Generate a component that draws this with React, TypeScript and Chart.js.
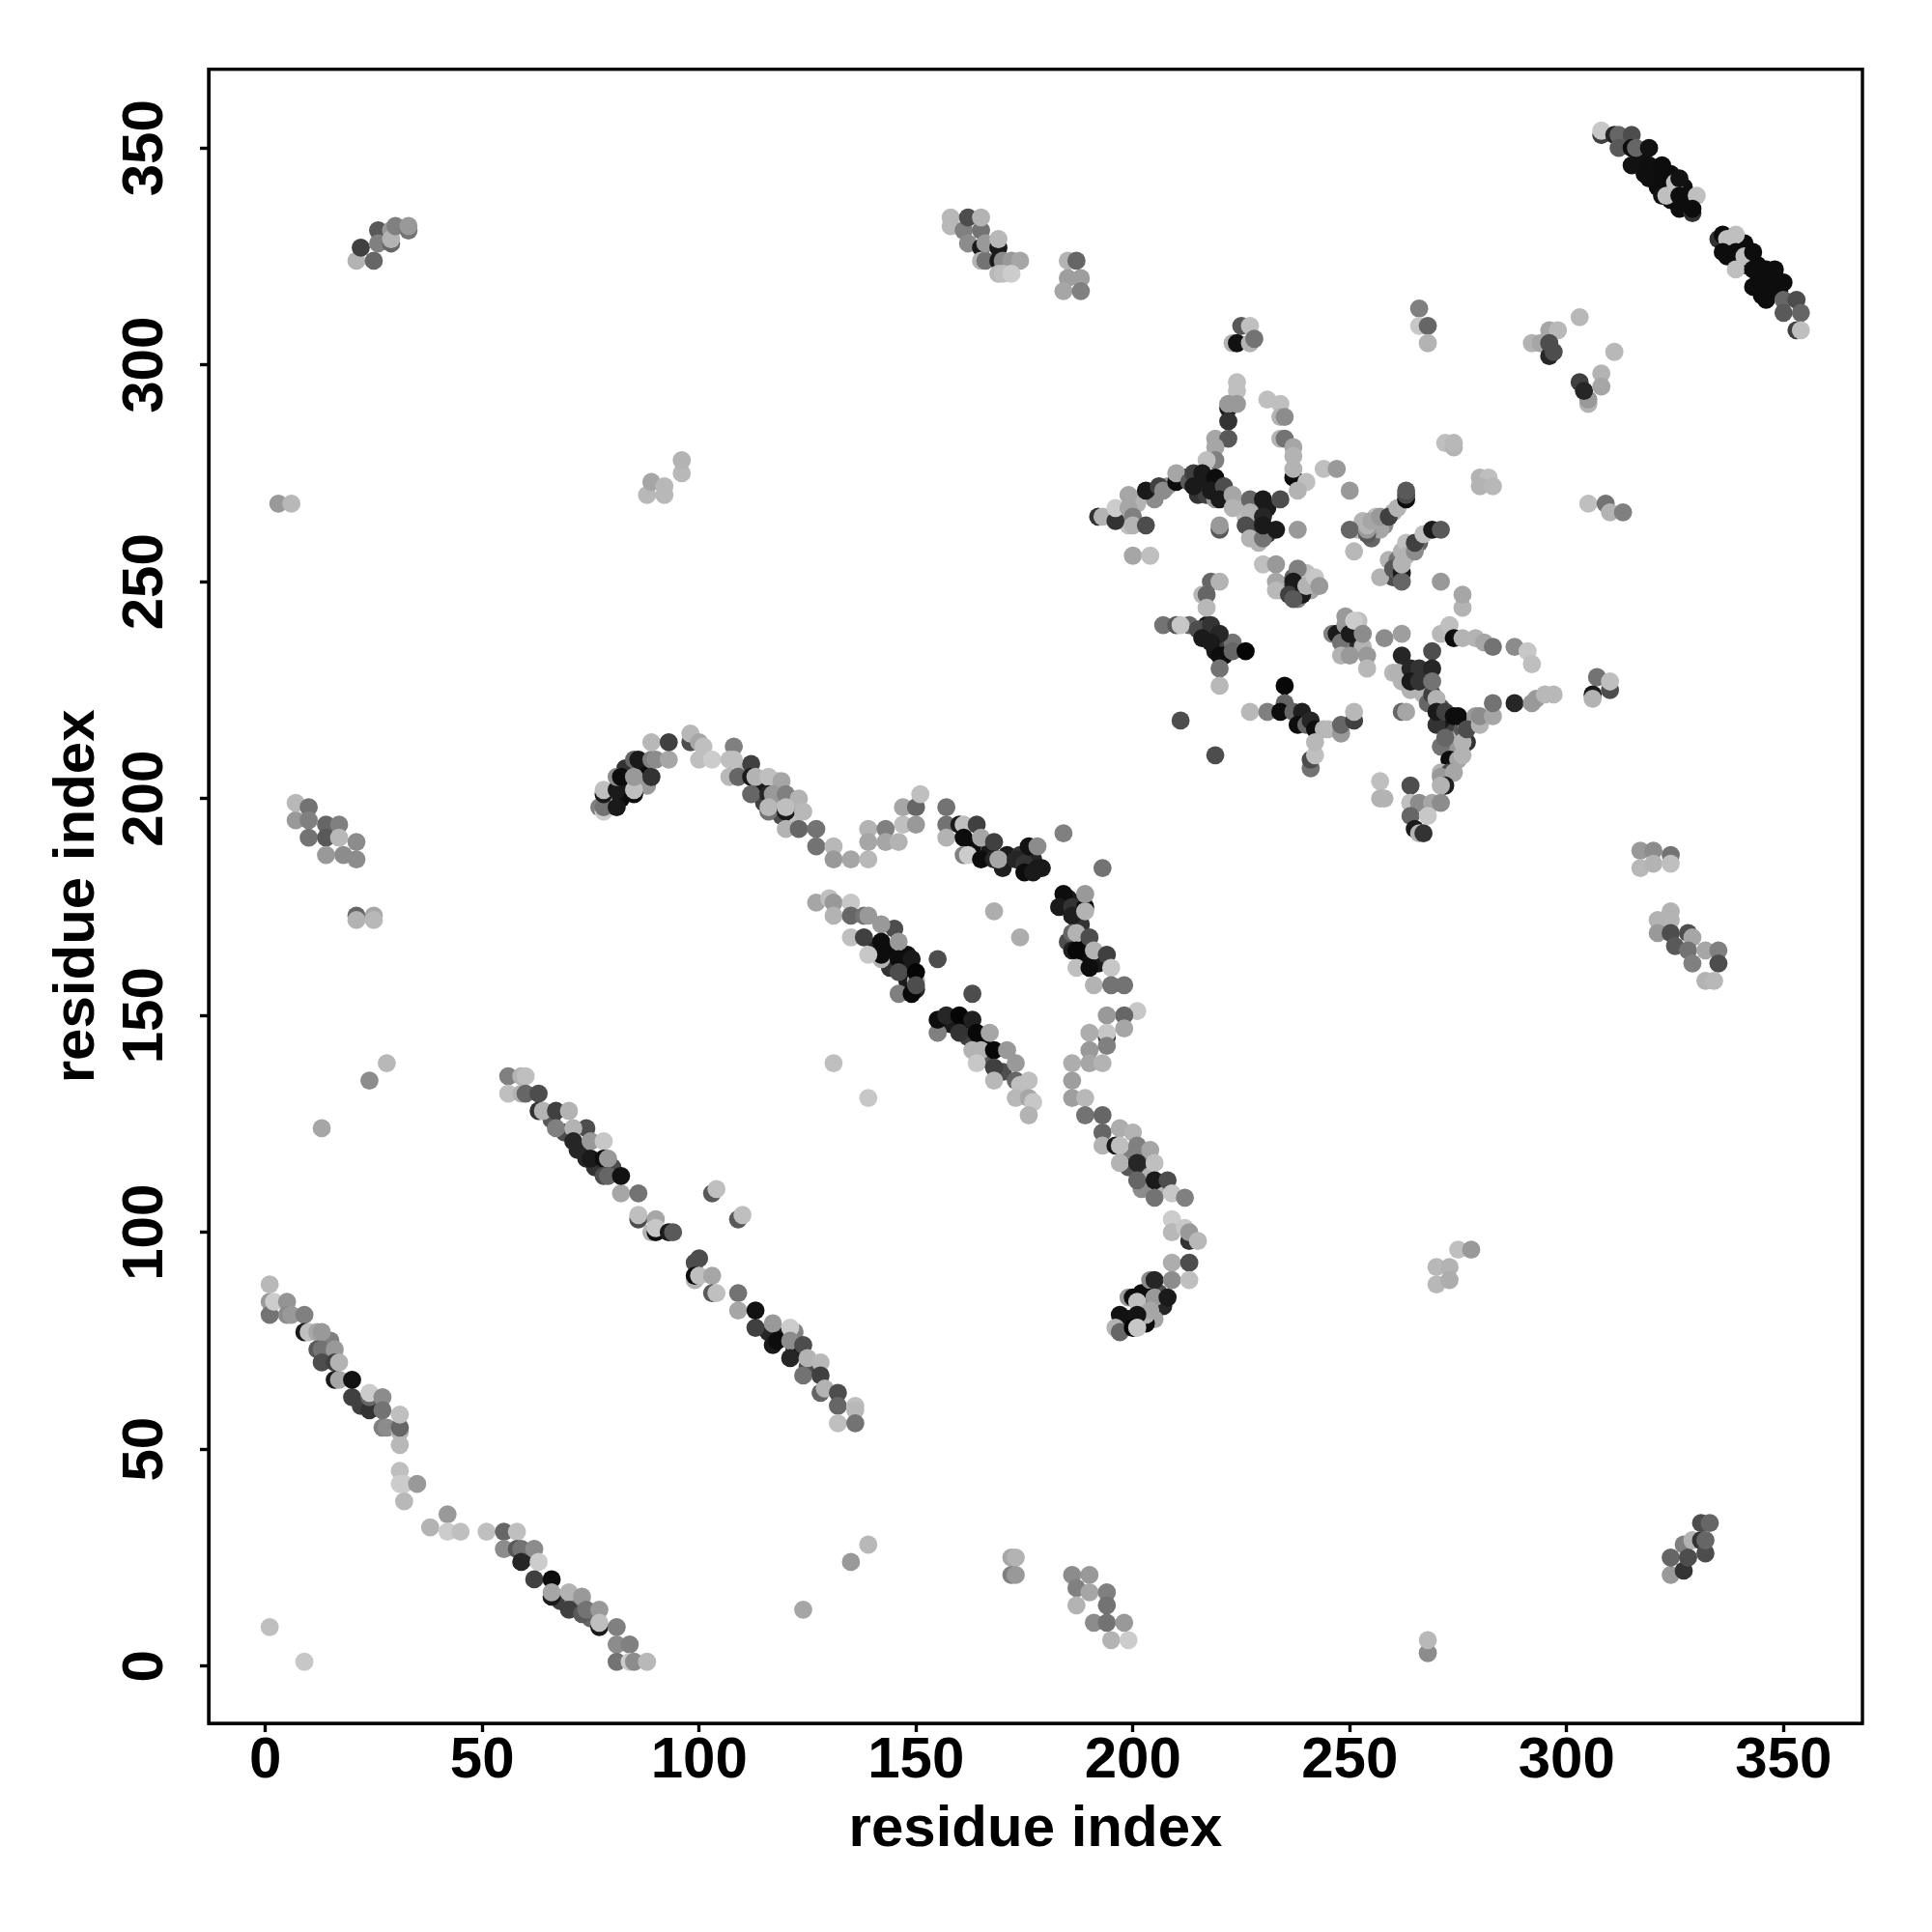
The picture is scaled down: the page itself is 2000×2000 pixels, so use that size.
import React, { useEffect, useRef } from "react";
import { Chart, registerables } from "chart.js";

Chart.register(...registerables);

type Contact = [number, number, number];

const axisTitle = "residue index";
const tickStep = 50;

const underStrands: Contact[] = [[317,348,.07],[320,345,.06],[323,342,.05],[324,344,.06],[328,338,.05],[327,341,.06],[318,344,.06],[321,341,.05],[324,338,.06],[338,328,.05],[341,328,.05],[341,323,.05],[345,320,.05],[344,323,.05],[347,320,.05],[349,317,.05],[345,316,.05],[337,325,.05],[348,322,.05],[14,71,.4],[15,75,.5],[22,60,.25],[26,60,.3],[68,15,.25],[71,15,.45],[75,11,.4],[60,25,.2],[72,119,.15],[76,115,.2],[69,123,.3],[80,115,.3],[122,73,.1],[119,76,.1],[116,77,.15],[125,69,.3],[66,126,.35],[122,77,.5]];

const underCurves: Contact[] = [[82,200,.05],[84,203,.1],[87,207,.05],[83,207,.2],[88,203,.6],[110,206,.7],[114,203,.1],[115,199,.25],[118,199,.7],[121,195,.75],[119,196,.3],[118,204,.7],[122,199,.6],[163,189,.05],[167,188,.1],[171,187,.1],[174,187,.2],[170,184,.12],[176,184,.05],[177,186,.15],[179,184,.1],[144,165,.05],[141,166,.15],[147,161,.1],[148,164,.05],[144,161,.2],[145,170,.3],[148,158,.1],[158,148,.1],[161,148,.05],[162,145,.25],[165,144,.05],[166,140,.35],[170,137,.3],[185,177,.1],[187,176,.1],[188,171,.2],[188,166,.05],[189,163,.05],[192,162,.1],[185,167,.3],[199,118,.5],[199,115,.35],[203,117,.5],[203,114,.25],[202,110,.55],[206,110,.7],[204,113,.7],[206,86,.3],[202,86,.05],[207,83,.15],[205,80,.65],[199,80,.1],[203,79,.05]];

const underCross: Contact[] = [[215,270,.2],[205,269,.55],[208,272,.6],[212,274,.3],[216,272,.15],[218,273,.1],[217,270,.25],[219,269,.6],[222,270,.5],[225,268,.7],[228,266,.3],[231,267,.1],[226,265,.75],[228,261,.7],[228,263,.25],[231,261,.2],[197,265,.75],[198,264,.7],[199,263,.75],[201,268,.7],[252,262,.7],[253,264,.7],[256,262,.6],[255,260,.4],[256,265,.75],[258,263,.55],[257,262,.65],[260,266,.7],[259,255,.7],[261,255,.45],[262,257,.7],[264,258,.6],[263,259,.75],[266,259,.4],[261,252,.75],[260,251,.3],[234,248,.7],[235,249,.3],[238,248,.15],[237,251,.4],[239,250,.6],[241,248,.65],[240,252,.75],[238,246,.5],[217,240,.1],[219,237,.05],[221,236,.15],[219,234,.1],[222,235,.25],[218,238,.25],[221,233,.05],[216,239,.35],[223,236,.45],[213,240,.4],[265,229,.2],[267,228,.7],[265,228,.65],[268,226,.3],[267,224,.7],[268,222,.4],[269,224,.25],[271,221,.35],[273,218,.1],[274,217,.7],[275,216,.15],[273,216,.25],[271,218,.1],[275,214,.5],[277,213,.2],[274,212,.6],[276,215,.7],[271,212,.45],[270,217,.2],[263,228,.3],[264,225,.7],[262,227,.7],[258,237,.55],[251,236,.2],[249,235,.15],[252,239,.35],[252,241,.75],[253,235,.7]];

const diagonalLow: Contact[] = [[1,84,.6],[1,81,.45],[1,88,.72],[2,84,.8],[5,84,.58],[5,81,.55],[6,81,.6],[9,81,.5],[9,77,.1],[10,77,.75],[12,77,.65],[13,77,.6],[12,73,.35],[13,73,.45],[16,73,.6],[13,70,.3],[16,70,.25],[17,70,.7],[16,66,.1],[17,66,.65],[20,62,.25],[20,66,.07],[24,59,.2],[24,62,.4],[24,63,.8],[27,62,.55],[27,59,.45],[27,55,.5],[28,55,.55],[31,54,.7],[31,51,.72],[31,55,.4],[31,58,.75],[31,45,.75],[31,42,.8],[32,42,.8],[35,42,.6],[32,38,.72],[38,32,.7],[42,35,.6],[42,31,.8],[45,31,.75],[51,31,.75],[55,31,.4],[58,31,.75],[55,27,.55],[58,27,.35],[59,27,.45],[62,27,.55],[59,24,.15],[63,24,.8],[62,20,.25],[66,20,.05],[66,16,.1],[66,17,.65],[70,17,.7],[73,16,.6],[70,13,.25],[73,12,.35],[74,13,.45],[77,13,.6],[77,9,.1],[77,10,.75],[81,9,.5],[81,5,.55],[84,5,.5],[81,1,.45],[84,1,.8],[85,1,.55],[88,1,.72],[1,9,.75],[9,1,.78]];

const diagonalMid: Contact[] = [[56,136,.5],[59,136,.7],[60,136,.75],[56,132,.75],[59,132,.7],[60,132,.4],[63,132,.3],[63,128,.2],[64,128,.7],[67,128,.25],[70,128,.7],[67,124,.5],[74,124,.3],[71,124,.7],[71,121,.15],[75,121,.6],[74,117,.15],[75,117,.1],[78,121,.78],[78,117,.05],[79,117,.6],[78,113,.3],[79,113,.4],[82,109,.65],[82,113,.07],[86,109,.45],[86,103,.3],[86,104,.75],[90,103,.65],[89,100,.7],[90,100,.05],[90,101,.78],[93,100,.1],[94,100,.35],[99,93,.3],[100,94,.3],[99,89,.7],[99,90,.05],[100,90,.75],[103,90,.65],[103,86,.35],[104,86,.75],[109,86,.45],[109,82,.65],[113,78,.25],[113,82,.07],[117,79,.6],[117,74,.1],[118,75,.05],[121,78,.8],[121,75,.55],[124,74,.3],[121,71,.15],[125,71,.7],[124,67,.45],[128,70,.72],[128,67,.25],[128,63,.4],[129,64,.7],[132,63,.3],[132,60,.4],[136,60,.75],[136,59,.72],[132,56,.75],[136,56,.45],[103,109,.35],[104,110,.75],[109,103,.35],[110,104,.75],[131,139,.75],[139,131,.78]];

const hairpinLeft: Contact[] = [[77,198,.5],[78,197,.8],[78,198,.45],[81,198,.1],[78,201,.1],[78,202,.75],[81,202,.1],[81,205,.55],[82,205,.05],[85,209,.4],[85,201,.05],[85,202,.75],[85,205,.6],[86,209,.1],[89,209,.5],[89,205,.2],[90,209,.55],[93,209,.65],[89,213,.72],[93,213,.25],[98,213,.3],[98,215,.72],[100,213,.65],[101,212,.75],[100,209,.75],[103,209,.8],[108,212,.5],[107,209,.75],[108,209,.75],[112,208,.25],[107,205,.72],[109,205,.4],[112,205,.1],[113,205,.7],[116,205,.75],[119,204,.65],[112,201,.4],[116,201,.15],[117,201,.6],[120,201,.5],[123,200,.7],[116,197,.45],[116,198,.72],[120,197,.1],[120,198,.75],[124,197,.72],[120,193,.7],[123,193,.4],[127,193,.45],[127,189,.45],[131,189,.72],[131,186,.6],[135,186,.65],[139,186,.72],[139,193,.7],[139,190,.65],[143,193,.5],[143,190,.65],[146,190,.7],[147,194,.75],[147,198,.65],[150,198,.4],[150,194,.6],[151,201,.75]];

const hairpinRight: Contact[] = [[157,198,.45],[157,194,.45],[157,191,.7],[160,194,.1],[161,194,.75],[161,191,.05],[164,194,.25],[165,191,.65],[168,190,.25],[161,187,.5],[162,187,.8],[165,186,.05],[168,186,.15],[169,186,.65],[173,186,.15],[175,185,.2],[176,189,.07],[178,189,.55],[175,183,.05],[177,183,.1],[178,184,.1],[184,192,.5],[193,184,.45]];

const stripLower: Contact[] = [[127,176,.65],[130,177,.75],[131,176,.6],[131,173,.7],[135,176,.78],[135,173,.4],[138,173,.45],[139,173,.6],[142,171,.6],[135,168,.75],[138,168,.25],[142,167,.05],[146,167,.6],[142,163,.7],[142,164,.05],[139,164,.78],[146,163,.05],[149,163,.1],[146,160,.3],[150,158,.7],[150,160,.02],[146,155,.5],[150,156,.15],[149,155,.03],[150,157,.3],[155,163,.3],[163,155,.3],[155,146,.5],[155,149,.05],[157,150,.15],[160,150,.02],[163,149,.12],[160,146,.2],[164,146,.03],[167,146,.65],[163,142,.7],[165,142,.7],[168,142,.03],[171,142,.6],[164,139,.78],[168,138,.25],[173,139,.6],[168,135,.72],[173,135,.4],[174,134,.75],[176,135,.75],[173,131,.72],[176,131,.65],[177,130,.78],[176,127,.7],[168,174,.68],[174,168,.68]];

const armUpper: Contact[] = [[184,178,.05],[183,175,.1],[186,175,.2],[186,173,.12],[189,175,.05],[189,174,.7],[189,178,.6],[186,169,.4],[187,169,.7],[190,168,.3],[186,165,.12],[187,165,.03],[191,165,.7],[194,164,.25],[187,161,.75],[190,161,.05],[195,161,.78],[191,157,.7],[195,157,.45],[198,157,.45],[201,151,.78],[198,150,.4],[194,150,.6],[194,145,.25],[194,146,.78],[198,147,.65],[190,146,.68],[190,142,.6],[194,143,.5],[186,139,.68],[190,139,.65],[193,139,.7],[186,135,.62],[186,131,.62],[189,131,.72]];

const armLower: Contact[] = [[189,127,.45],[193,127,.4],[193,123,.4],[197,124,.68],[200,123,.7],[193,120,.7],[196,120,.1],[197,120,.75],[201,120,.5],[204,119,.65],[197,116,.7],[201,116,.15],[205,116,.75],[201,112,.4],[205,112,.1],[208,112,.3],[205,108,.45],[209,109,.78],[212,108,.5],[209,103,.8],[209,100,.72],[212,101,.78],[213,98,.2],[213,100,.6],[215,98,.72],[209,93,.68],[213,93,.3],[204,89,.55],[205,89,.15],[209,89,.55],[213,89,.75],[204,85,.05],[205,85,.6],[208,85,.1],[199,85,.6],[200,85,.05],[201,84,.75],[203,81,.7],[204,82,.65],[197,81,.07],[201,81,.08],[196,78,.7],[197,77,.4],[200,78,.02],[201,78,.78]];

const strandTop: Contact[] = [[308,353,.25],[308,354,.78],[311,353,.15],[312,353,.4],[312,350,.35],[315,353,.3],[315,350,.05],[316,350,.4],[315,346,.07],[319,350,.07],[319,346,.06],[319,343,.06],[322,346,.05],[322,343,.05],[322,339,.07],[323,339,.75],[325,342,.75],[326,343,.07],[326,339,.05],[326,336,.05],[329,335,.2],[330,339,.75],[329,336,.05],[335,329,.2],[336,330,.05],[337,329,.75],[339,330,.75],[336,326,.05],[339,326,.05],[341,325,.75],[343,326,.05],[339,322,.75],[343,322,.05],[343,318,.05],[346,322,.05],[350,319,.05],[347,318,.05],[346,315,.05],[350,315,.4],[353,315,.3],[350,312,.35],[354,312,.4],[353,308,.25],[354,308,.75]];

const crossNorth: Contact[] = [[225,309,.35],[227,309,.75],[223,305,.7],[224,305,.07],[227,305,.7],[228,306,.45],[224,296,.75],[224,294,.75],[222,290,.1],[222,291,.6],[224,291,.6],[222,287,.2],[219,283,.65],[222,283,.35],[219,281,.65],[219,278,.5],[217,278,.75],[231,292,.75],[234,291,.75],[234,288,.7],[235,288,.55],[234,283,.7],[235,283,.45],[237,281,.65],[237,279,.7],[237,274,.05],[237,276,.7],[240,273,.75],[238,271,.7],[244,276,.75],[247,276,.6],[250,271,.6]];

const crossWest: Contact[] = [[192,265,.2],[193,265,.7],[196,264,.2],[196,267,.8],[199,270,.65],[199,267,.65],[200,265,.5],[200,263,.7],[203,263,.3],[203,271,.1],[206,272,.25],[207,271,.55],[210,273,.05],[210,275,.65],[213,273,.35],[214,275,.25],[216,275,.1],[214,272,.1],[219,274,.05],[218,271,.1],[221,272,.3],[220,269,.1],[223,270,.65],[223,267,.7],[227,269,.4],[230,269,.1],[234,269,.3],[227,266,.7],[230,265,.15],[226,263,.3],[227,260,.7],[229,259,.7],[230,260,.45],[230,263,.1],[233,262,.1],[238,262,.6],[220,262,.35],[220,263,.6],[200,256,.65],[204,256,.75]];

const crossCentre: Contact[] = [[250,262,.4],[251,257,.72],[254,261,.35],[254,262,.6],[254,263,.7],[255,264,.65],[257,265,.6],[259,265,.25],[261,267,.7],[263,269,.05],[263,270,.3],[263,271,.35],[257,251,.7],[260,253,.35],[262,252,.1],[262,250,.4],[262,254,.7],[263,256,.7],[265,257,.55],[265,259,.25],[267,261,.75],[269,262,.1],[271,262,.35],[271,250,.6],[276,244,.7],[276,247,.65],[271,238,.72],[273,240,.75],[274,237,.05],[276,237,.7],[279,237,.7],[281,236,.65],[283,235,.45],[288,235,.55],[291,234,.78],[292,231,.75],[272,282,.75],[274,281,.7],[274,282,.72],[280,274,.7],[282,274,.75],[280,272,.7],[283,272,.72],[266,313,.5],[266,309,.78],[268,309,.4],[268,305,.7]];

const crossSouth: Contact[] = [[230,254,.75],[233,254,.6],[233,250,.65],[233,248,.72],[238,253,.5],[237,250,.1],[236,247,.25],[239,247,.1],[237,246,.35],[240,249,.7],[242,251,.78],[243,249,.6],[218,250,.4],[220,250,.7],[216,247,.72],[217,247,.4],[217,244,.72],[207,240,.45],[210,240,.35],[211,240,.78],[215,239,.3],[218,240,.2],[216,237,.1],[220,238,.15],[218,236,.1],[220,233,.05],[223,234,.4],[226,234,.02],[220,230,.45],[220,226,.72],[246,238,.5],[247,238,.1],[248,236,.45],[249,240,.6],[249,242,.6],[250,238,.1],[251,241,.8],[253,238,.55],[248,233,.7],[250,233,.6],[254,233,.6],[254,230,.72]];

const crossEast: Contact[] = [[262,238,.62],[260,229,.72],[261,229,.7],[262,233,.15],[264,230,.15],[266,230,.2],[269,234,.3],[269,230,.15],[264,227,.1],[266,227,.2],[269,227,.45],[262,220,.4],[263,220,.65],[270,223,.7],[270,220,.1],[272,220,.25],[274,219,.05],[272,214,.4],[276,216,.35],[276,213,.7],[277,217,.75],[275,219,.05],[279,219,.6],[277,216,.3],[280,217,.7],[280,219,.55],[283,219,.65],[283,222,.45],[288,222,.15],[292,222,.6],[293,223,.6],[295,224,.72],[297,224,.72],[273,209,.05],[275,209,.65],[271,206,.7],[273,206,.3],[276,210,.7],[271,205,.6],[274,206,.65],[264,203,.3],[272,203,.12],[271,203,.7],[257,204,.75],[257,200,.7],[258,200,.7],[264,199,.6],[264,199,.75],[266,199,.55],[269,199,.65],[271,199,.55],[264,196,.4],[268,196,.78],[265,193,.1],[266,192,.7],[267,192,.2]];

const crossSouthWest: Contact[] = [[211,218,.3],[219,210,.3],[227,220,.72],[231,220,.5],[235,226,.03],[235,222,.4],[234,220,.05],[237,220,.4],[239,220,.12],[238,217,.05],[240,217,.4],[241,218,.15],[242,216,.05],[244,216,.7],[245,216,.72],[248,215,.6],[248,217,.4],[251,218,.25],[251,220,.72],[241,207,.45],[241,209,.3],[242,210,.75],[242,213,.72]];

const edgePatches: Contact[] = [[292,305,.7],[294,305,.65],[296,308,.65],[298,308,.72],[296,302,.15],[296,305,.3],[297,303,.3],[303,311,.72],[311,303,.72],[305,291,.7],[305,292,.6],[303,296,.25],[304,294,.15],[308,298,.7],[308,295,.65],[305,268,.75],[309,268,.45],[310,266,.7],[313,266,.5],[307,228,.45],[310,225,.3],[310,227,.75],[306,224,.1],[306,223,.7]];

const topPatches: Contact[] = [[21,324,.7],[22,327,.25],[25,324,.4],[26,331,.35],[26,328,.5],[29,331,.6],[29,328,.4],[29,329,.7],[30,332,.5],[33,331,.45],[33,332,.6],[158,332,.72],[158,334,.72],[161,331,.5],[162,334,.3],[162,328,.55],[165,331,.45],[165,334,.7],[165,327,.1],[165,324,.7],[166,324,.45],[166,328,.6],[169,324,.1],[169,327,.1],[169,329,.72],[170,324,.55],[172,324,.6],[174,324,.65],[169,321,.72],[170,321,.75],[172,321,.8],[185,324,.7],[187,324,.4],[185,320,.62],[188,320,.62],[184,317,.65],[188,317,.5],[3,268,.6],[6,268,.72],[88,270,.72],[89,273,.65],[92,272,.72],[92,270,.72],[96,275,.72],[96,278,.7]];

const leftPatches: Contact[] = [[7,195,.6],[7,199,.72],[10,198,.45],[10,195,.5],[10,191,.45],[14,194,.4],[14,191,.35],[17,194,.5],[17,191,.72],[14,187,.6],[18,187,.55],[21,190,.55],[21,186,.55],[21,173,.4],[21,172,.7],[25,173,.65],[25,172,.72],[24,135,.55],[28,139,.72],[13,124,.65]];

const rightPatches: Contact[] = [[317,188,.6],[317,184,.72],[320,188,.55],[320,185,.7],[324,187,.45],[324,185,.75],[321,172,.7],[321,169,.6],[324,174,.7],[324,172,.7],[324,169,.3],[328,169,.3],[329,168,.65],[325,166,.35],[328,165,.45],[332,165,.65],[335,165,.5],[329,162,.5],[335,162,.3],[332,158,.7],[334,158,.72],[270,92,.72],[273,92,.7],[270,88,.72],[273,89,.68],[275,96,.75],[278,96,.6]];

const bottomPatches: Contact[] = [[324,21,.6],[324,25,.4],[327,22,.2],[327,28,.5],[328,25,.3],[329,29,.7],[331,29,.2],[332,26,.3],[332,29,.4],[331,33,.3],[333,33,.4],[186,21,.55],[190,21,.6],[187,18,.5],[190,17,.65],[194,17,.5],[187,14,.7],[194,14,.45],[191,10,.55],[194,10,.45],[198,10,.6],[195,6,.7],[199,6,.8],[172,25,.65],[173,25,.7],[172,21,.5],[173,21,.6],[135,24,.6],[139,28,.72],[124,13,.65],[268,3,.55],[268,6,.72]];

const contacts: Contact[] = [
  ...underStrands, ...underCurves, ...underCross,
  ...diagonalLow, ...diagonalMid, ...hairpinLeft, ...hairpinRight, ...stripLower, ...armUpper, ...armLower,
  ...strandTop, ...crossNorth, ...crossWest, ...crossCentre, ...crossSouth, ...crossEast, ...crossSouthWest,
  ...edgePatches, ...topPatches, ...leftPatches, ...rightPatches, ...bottomPatches,
];

const shade = (g: number) => {
  const v = Math.round(g * 255);
  return `rgb(${v},${v},${v})`;
};

const frame = {
  id: "frame",
  afterDraw(chart: Chart) {
    const { ctx, chartArea: a } = chart;
    ctx.save();
    ctx.strokeStyle = "#000";
    ctx.lineWidth = 3.4;
    ctx.strokeRect(a.left, a.top, a.right - a.left, a.bottom - a.top);
    ctx.restore();
  },
};

export default function App() {
  const ref = useRef<HTMLCanvasElement>(null);
  useEffect(() => {
    document.body.style.margin = "0";
    const font = { family: "'Liberation Sans', Arial, sans-serif", size: 60, weight: "bold" as const };
    const chart = new Chart(ref.current!, {
      type: "scatter",
      data: {
        datasets: [
          {
            data: contacts.map(([x, y]) => ({ x, y })),
            backgroundColor: contacts.map(([, , g]) => shade(g)),
            pointRadius: 9.4,
            pointBorderWidth: 0,
            pointHoverRadius: 9.4,
          },
        ],
      },
      options: {
        animation: false,
        responsive: false,
        events: [],
        layout: { padding: { top: 71.7, right: 72, left: 0, bottom: 0 } },
        plugins: { legend: { display: false }, tooltip: { enabled: false } },
        scales: {
          x: {
            type: "linear",
            min: -13.07,
            max: 368.2,
            afterFit: (s: any) => { s.height = 216; },
            grid: { drawOnChartArea: false, tickLength: 9, tickColor: "#000", tickWidth: 3.4 },
            border: { display: true, color: "#000", width: 3 },
            ticks: { stepSize: tickStep, includeBounds: false, color: "#000", font, padding: -6, maxRotation: 0, autoSkip: false },
            title: { display: true, text: axisTitle, color: "#000", font, padding: { top: 0, bottom: 70 } },
          },
          y: {
            type: "linear",
            min: -13.2,
            max: 368.15,
            afterFit: (s: any) => { s.width = 216; },
            grid: { drawOnChartArea: false, tickLength: 9, tickColor: "#000", tickWidth: 3.4 },
            border: { display: true, color: "#000", width: 3 },
            ticks: { stepSize: tickStep, includeBounds: false, color: "#000", font, padding: 5, minRotation: 90, maxRotation: 90, crossAlign: "center", autoSkip: false },
            title: { display: true, text: axisTitle, color: "#000", font, padding: { top: 44, bottom: 0 } },
          },
        },
      },
      plugins: [frame],
    } as any);
    return () => chart.destroy();
  }, []);
  return <canvas ref={ref} width={2000} height={2000} style={{ display: "block" }} />;
}
